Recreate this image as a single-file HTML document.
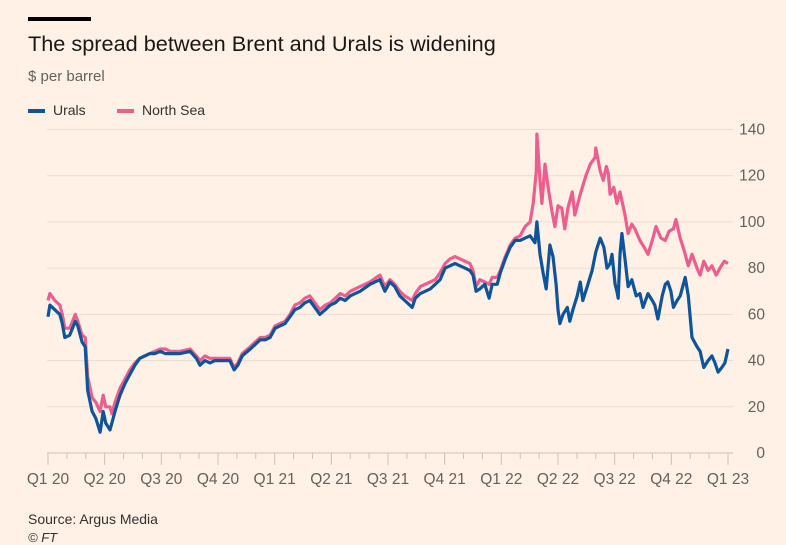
<!DOCTYPE html>
<html><head><meta charset="utf-8"><style>
body{margin:0;background:#fff1e5;width:786px;height:545px;overflow:hidden;font-family:"Liberation Sans",sans-serif;position:relative}
.t{position:absolute;white-space:nowrap}
</style></head><body>
<div style="position:absolute;left:28px;top:17px;width:63px;height:4px;background:#000"></div>
<div class="t" style="left:28px;top:31px;font-size:21.7px;color:#1a1817">The spread between Brent and Urals is widening</div>
<div class="t" style="left:28px;top:68px;font-size:15px;color:#66605c">$ per barrel</div>
<div class="t" style="left:28px;top:102px;font-size:14px;color:#33302e"><span style="display:inline-block;width:17px;height:4px;background:#0f5499;vertical-align:middle;margin-right:8px"></span>Urals</div>
<div class="t" style="left:117px;top:102px;font-size:14px;color:#33302e"><span style="display:inline-block;width:17px;height:4px;background:#eb5e8d;vertical-align:middle;margin-right:8px"></span>North Sea</div>
<svg id="c" width="786" height="545" style="position:absolute;left:0;top:0"></svg>
<div class="t" style="left:28px;top:511px;font-size:14px;color:#33302e">Source: Argus Media</div>
<div class="t" style="left:28px;top:530px;font-size:13px;color:#33302e;font-style:italic">© FT</div>
<script>
const yTicks=[0,20,40,60,80,100,120,140];
const xLabels=["Q1 20","Q2 20","Q3 20","Q4 20","Q1 21","Q2 21","Q3 21","Q4 21","Q1 22","Q2 22","Q3 22","Q4 22","Q1 23"];
const uralsDays=[0,3,11,19,23,27,35,44,48,55,60,64,71,77,84,89,93,100,103,108,116,124,132,140,148,156,164,172,181,189,197,213,229,239,245,253,261,269,280,293,300,306,313,326,334,342,350,358,366,374,382,390,398,406,414,422,430,438,447,455,463,471,479,487,495,503,519,535,543,551,559,567,575,587,592,600,616,624,632,640,648,656,664,672,680,685,690,696,704,711,716,724,729,737,745,753,761,769,777,785,788,793,798,803,809,814,819,822,825,830,837,841,846,853,858,862,869,877,883,890,896,901,906,909,914,917,919,922,925,930,935,941,948,954,959,967,974,978,983,990,995,999,1004,1008,1014,1019,1027,1032,1038,1046,1051,1057,1064,1070,1075,1080,1086,1091,1096];
const uralsVals=[59,64,62,60,56,50,51,57,55,48,46,27,18,15,9,18,13,10,13,18,25,30,34,38,41,42,43,43,44,43,43,43,44,41,38,40,39,40,40,40,36,38,42,45,47,49,49,50,54,55,56,59,62,63,65,66,63,60,62,64,65,67,66,68,69,70,73,75,70,74,72,68,66,63,67,69,71,73,75,80,81,82,81,80,79,77,70,71,73,67,73,73,78,84,89,92,92,93,94,91,100,86,78,71,90,85,73,62,56,60,63,57,62,68,74,66,72,79,87,93,89,80,82,86,73,70,67,86,95,84,72,75,68,69,63,69,66,64,58,68,73,74,70,63,66,68,76,68,50,46,44,37,40,42,39,35,37,39,45];
const nsDays=[0,3,11,19,23,27,35,44,48,55,60,64,71,77,84,89,93,100,103,108,116,124,132,140,148,156,164,172,181,189,197,213,229,239,245,253,261,269,280,293,300,306,313,326,334,342,350,358,366,374,382,390,398,406,414,422,430,438,447,455,463,471,479,487,495,503,519,535,543,551,559,567,575,587,592,600,616,624,632,640,648,656,664,672,680,685,690,696,704,711,716,724,729,737,745,753,761,769,777,782,787,788,793,796,801,806,812,817,822,828,833,838,845,849,858,867,874,882,883,890,895,900,903,906,912,917,922,930,935,941,946,954,961,967,974,980,988,995,1001,1008,1012,1019,1025,1032,1038,1046,1051,1057,1064,1070,1077,1083,1090,1096];
const nsVals=[66,69,66,64,60,54,54,60,57,51,50,33,24,22,18,25,20,20,17,22,28,32,36,39,41,42,43,44,45,45,44,44,45,42,40,42,41,41,41,41,37,39,43,46,48,50,50,51,55,56,57,60,64,65,67,68,65,62,64,65,67,69,68,70,71,72,74,77,72,75,73,70,68,66,69,72,74,75,78,82,84,85,84,83,82,79,72,75,74,73,76,76,79,85,90,93,94,98,100,108,122,138,118,108,125,115,105,98,107,106,97,106,113,103,112,120,125,128,132,122,118,124,121,112,115,108,113,103,95,99,97,92,89,86,92,98,93,92,96,97,101,93,88,81,86,80,77,83,79,81,77,80,83,82];
const svg=document.getElementById('c'),NS='http://www.w3.org/2000/svg';
const x0=48,x1=728,y0=453,y1=129.5;
const xs=d=>x0+(d/1096)*(x1-x0);
const ys=v=>y0-(v/140)*(y0-y1);
function mk(t,a){const e=document.createElementNS(NS,t);for(const k in a)e.setAttribute(k,a[k]);svg.appendChild(e);return e;}
yTicks.forEach(v=>{
 const l=mk('line',{x1:47,x2:733,y1:ys(v),y2:ys(v),stroke:v===0?'#ccc1b7':'#e9ddd2','stroke-width':1});
 
 
 const t=mk('text',{x:765,y:ys(v)+5,'text-anchor':'end','font-size':15.5,fill:'#66605c','font-family':'Liberation Sans'});
 t.textContent=v;
 
 
});
for(let m=0;m<=36;m++){
 const d=m*1096/36;const q=m%3===0;
 const l=mk('line',{x1:xs(d),x2:xs(d),y1:453,y2:q?465:459,stroke:'#ccc1b7','stroke-width':1});
 
 
}
xLabels.forEach((s,i)=>{
 const t=mk('text',{x:xs(i*1096/12),y:484,'text-anchor':'middle','font-size':15.5,fill:'#66605c','font-family':'Liberation Sans'});
 t.textContent=s;
 
 
});
function line(days,vals,col,name){
 const p=mk('path',{d:days.map((d,i)=>(i?'L':'M')+xs(d).toFixed(1)+','+ys(vals[i]).toFixed(1)).join(''),fill:'none',stroke:col,'stroke-width':3.2,'stroke-linejoin':'round'});
 
 
}
line(nsDays,nsVals,'#eb5e8d','north-sea-line');
line(uralsDays,uralsVals,'#0f5499','urals-line');
</script>
</body></html>
